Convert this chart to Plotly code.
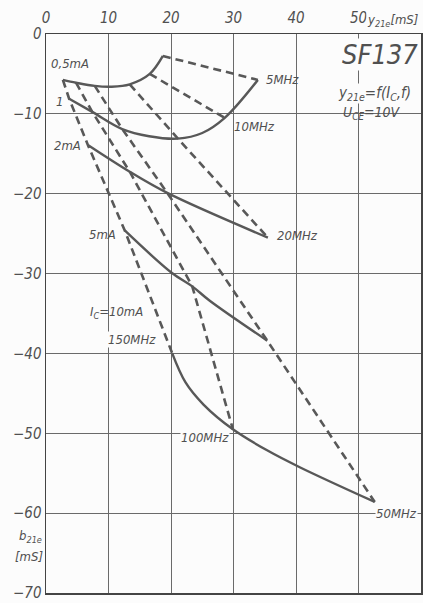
import plotly.graph_objects as go

# ---- constant-current loci (solid), traced from the 150 MHz end towards low frequency ----
g_0p5mA = [2.7, 4.8, 7.8, 10.5, 13.4, 16.6, 18.7]
b_0p5mA = [-5.75, -6.1, -6.5, -6.6, -6.3, -5.0, -2.75]
g_1mA = [3.7, 7.4, 12.2, 16.5, 21.1, 25.0, 28.6, 33.9]
b_1mA = [-8.1, -9.75, -11.9, -12.8, -13.1, -12.4, -10.5, -5.75]
g_2mA = [6.7, 13.4, 19.4, 35.5]
b_2mA = [-13.9, -17.25, -19.9, -25.5]
g_5mA = [12.6, 20.1, 23.4, 26.2, 35.4]
b_5mA = [-24.6, -29.9, -31.6, -33.4, -38.4]
g_10mA = [20.2, 22.3, 25.2, 29.9, 35.3, 40.6, 52.6]
b_10mA = [-40.0, -43.6, -46.4, -49.5, -52.1, -54.25, -58.6]

# ---- constant-frequency lines (dashed), from 0.5 mA towards higher Ic ----
g_150MHz = [2.7, 3.7, 6.7, 12.6, 20.2]
b_150MHz = [-5.75, -8.1, -13.9, -24.6, -40.0]
g_100MHz = [4.8, 7.4, 13.4, 23.4, 29.9]
b_100MHz = [-6.1, -9.75, -17.25, -31.6, -49.5]
g_50MHz = [7.8, 12.2, 19.4, 35.4, 52.6]
b_50MHz = [-6.5, -11.9, -19.9, -38.4, -58.6]
g_20MHz = [13.4, 21.1, 35.5]
b_20MHz = [-6.3, -13.1, -25.5]
g_10MHz = [16.6, 28.6]
b_10MHz = [-5.0, -10.5]
g_5MHz = [18.7, 33.9]
b_5MHz = [-2.75, -5.75]

x_ticks = [0, 10, 20, 30, 40, 50]
y_ticks = [0, -10, -20, -30, -40, -50, -60, -70]
y_ticktext = ["0", "−10", "−20", "−30", "−40", "−50", "−60", "−70"]

FONT = "Liberation Sans Narrow, DejaVu Sans Condensed, Liberation Sans, sans-serif"
TXT = "#505050"
LINE = "#585858"
GRID = "#6a6a6a"
BG = "#fcfcfc"

W, H = 423, 603
ML, MR, MT, MB = 46, 2, 34, 10
PW, PH = W - ML - MR, H - MT - MB

fig = go.Figure()

solid = [(g_0p5mA, b_0p5mA), (g_1mA, b_1mA), (g_2mA, b_2mA), (g_5mA, b_5mA), (g_10mA, b_10mA)]
for g, b in solid:
    fig.add_trace(go.Scatter(x=g, y=b, mode="lines",
                             line=dict(color=LINE, width=2.4, shape="spline", smoothing=1.0),
                             hoverinfo="skip"))

dashed = [(g_150MHz, b_150MHz), (g_100MHz, b_100MHz), (g_50MHz, b_50MHz),
          (g_20MHz, b_20MHz), (g_10MHz, b_10MHz), (g_5MHz, b_5MHz)]
for g, b in dashed:
    fig.add_trace(go.Scatter(x=g, y=b, mode="lines",
                             line=dict(color=LINE, width=2.6, dash="8px,5px"),
                             hoverinfo="skip"))

def label(x, y, text, size=13, bg=None, xanchor="center"):
    fig.add_annotation(x=x, y=y, xref="x", yref="y", text=text, showarrow=False,
                       xanchor=xanchor, yanchor="middle",
                       font=dict(family=FONT, size=size, color=TXT, style="italic"),
                       bgcolor=bg, borderpad=0)

label(3.8, -3.75, "0,5mA")
label(2.2, -8.4, "1")
label(3.5, -14.0, "2mA")
label(9.0, -25.1, "5mA")
label(11.2, -34.9, "I<sub>C</sub>=10mA")
label(13.8, -38.25, "150MHz", bg=BG)
label(25.4, -50.5, "100MHz", bg=BG)
label(56.0, -60.1, "50MHz", bg=BG)
label(40.2, -25.25, "20MHz")
label(33.3, -11.6, "10MHz")
label(37.8, -5.75, "5MHz")

def paper_label(px, py, text, size, anchor="center", bg=BG):
    # px, py are window pixel positions
    fig.add_annotation(x=(px - ML) / PW, y=(H - MB - py) / PH,
                       xref="paper", yref="paper",
                       text=text, showarrow=False, xanchor=anchor, yanchor="middle",
                       font=dict(family=FONT, size=size, color=TXT, style="italic"),
                       bgcolor=bg, borderpad=0)

paper_label(380, 54, "SF137", 27)
paper_label(374, 93, "y<sub>21e</sub>=f(I<sub>C</sub>,f)", 15)
paper_label(372, 113, "U<sub>CE</sub>=10V", 14, bg=None)
paper_label(392, 20, "y<sub>21e</sub>[mS]", 13)
paper_label(30, 536, "b<sub>21e</sub>", 13)
paper_label(29, 556, "[mS]", 13)

axis_font = dict(family=FONT, size=15, color=TXT, style="italic")
fig.update_layout(
    width=W, height=H,
    margin=dict(l=ML, r=MR, t=MT, b=MB),
    paper_bgcolor=BG, plot_bgcolor=BG,
    showlegend=False,
    xaxis=dict(range=[0, 60], side="top", tickvals=x_ticks,
               ticktext=[str(v) for v in x_ticks],
               showgrid=True, gridcolor=GRID, gridwidth=1,
               showline=True, linecolor="#444", linewidth=1.5, mirror=True,
               zeroline=False, ticks="", automargin=False, ticklabelstandoff=4,
               tickfont=axis_font),
    yaxis=dict(range=[-70, 0], tickvals=y_ticks, ticktext=y_ticktext,
               showgrid=True, gridcolor=GRID, gridwidth=1,
               showline=True, linecolor="#444", linewidth=1.5, mirror=True,
               zeroline=False, ticks="", automargin=False,
               tickfont=axis_font),
)

fig.write_html(
    "out.html",
    config={"displayModeBar": False, "staticPlot": True},
    post_script="document.body.style.margin='0px';"
                "document.documentElement.style.overflow='hidden';"
                "document.body.style.overflow='hidden';",
)
